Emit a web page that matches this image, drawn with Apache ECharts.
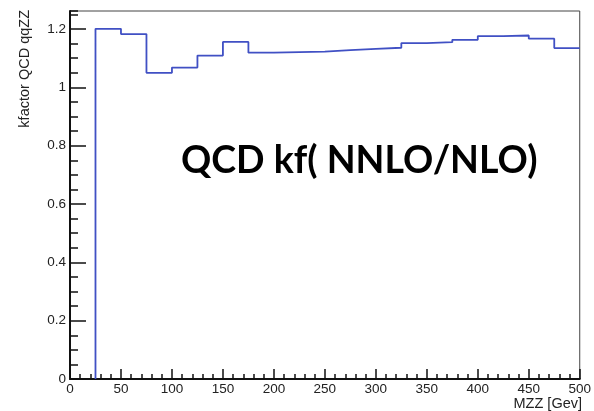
<!DOCTYPE html>
<html>
<head>
<meta charset="utf-8">
<script src="https://cdn.jsdelivr.net/npm/echarts@6/dist/echarts.min.js"></script>
<style>
  html, body { margin: 0; padding: 0; background: #fff; }
  #chart { width: 594px; height: 411px; }
</style>
</head>
<body>
<div id="chart"></div>
<script>
// Bin lower edges (width 25 GeV) and the QCD k-factor per bin
const binEdges = [25, 50, 75, 100, 125, 150, 175, 200, 225, 250, 275, 300, 325, 350, 375, 400, 425, 450, 475];
const binUpperEnd = 500;
const kfactor = [1.201, 1.183, 1.050, 1.068, 1.109, 1.156, 1.119, 1.121, 1.123, 1.128, 1.132, 1.136, 1.152, 1.155, 1.163, 1.176, 1.178, 1.167, 1.135];
const yMajorTicks = [0, 0.2, 0.4, 0.6, 0.8, 1.0, 1.2];

// Step outline of the histogram: rise from zero at the first edge, then one step per bin
const outline = [[binEdges[0], 0]];
binEdges.forEach((e, i) => outline.push([e, kfactor[i]]));
outline.push([binUpperEnd, kfactor[kfactor.length - 1]]);

const labelFont = { fontFamily: 'Liberation Sans', fontSize: 13.5, color: '#222' };
const chart = echarts.init(document.getElementById('chart'), null, { renderer: 'canvas' });

chart.setOption({
  animation: false,
  backgroundColor: '#fff',
  grid: { left: 70, right: 12, top: 11, bottom: 32, show: true, borderColor: '#444', borderWidth: 1, backgroundColor: 'transparent' },
  xAxis: {
    type: 'value', min: 0, max: 500, interval: 50,
    axisLine: { show: true, onZero: false, lineStyle: { color: '#111', width: 2 } },
    axisTick: { show: true, inside: true, length: 10, lineStyle: { color: '#111', width: 1.5 } },
    minorTick: { show: true, splitNumber: 5, length: 5, lineStyle: { color: '#111', width: 1.5 } },
    axisLabel: Object.assign({ margin: 3 }, labelFont),
    splitLine: { show: false }
  },
  yAxis: [
    {
      type: 'value', min: 0, max: 1.262, interval: 0.2, position: 'left',
      axisLine: { show: true, onZero: false, lineStyle: { color: '#111', width: 2 } },
      axisTick: { show: true, inside: true, length: 16, customValues: yMajorTicks, lineStyle: { color: '#111', width: 1.5 } },
      axisLabel: Object.assign({ margin: 4, customValues: yMajorTicks }, labelFont),
      splitLine: { show: false }
    },
    {
      type: 'value', min: 0, max: 1.262, interval: 0.05, position: 'left',
      axisLine: { show: false },
      axisTick: { show: true, inside: true, length: 8, lineStyle: { color: '#111', width: 1.5 } },
      axisLabel: { show: false },
      splitLine: { show: false }
    }
  ],
  series: [{
    type: 'line',
    yAxisIndex: 0,
    step: 'end',
    data: outline,
    symbol: 'none',
    lineStyle: { color: '#4050c4', width: 1.8 },
    z: 3
  }],
  graphic: [
    {
      type: 'text', x: 25, y: 10, rotation: Math.PI / 2,
      style: { text: 'kfactor QCD qqZZ', align: 'right', verticalAlign: 'middle', font: '14.5px "Liberation Sans"', fill: '#222' }
    },
    {
      type: 'text', x: 582, y: 411,
      style: { text: 'MZZ [Gev]', align: 'right', verticalAlign: 'bottom', font: '14.5px "Liberation Sans"', fill: '#222' }
    },
    {
      type: 'text', x: 181, y: 161,
      style: { text: 'QCD kf( NNLO/NLO)', align: 'left', verticalAlign: 'middle', font: 'bold 37.5px Lato', fill: '#000' }
    }
  ]
});
</script>
</body>
</html>
